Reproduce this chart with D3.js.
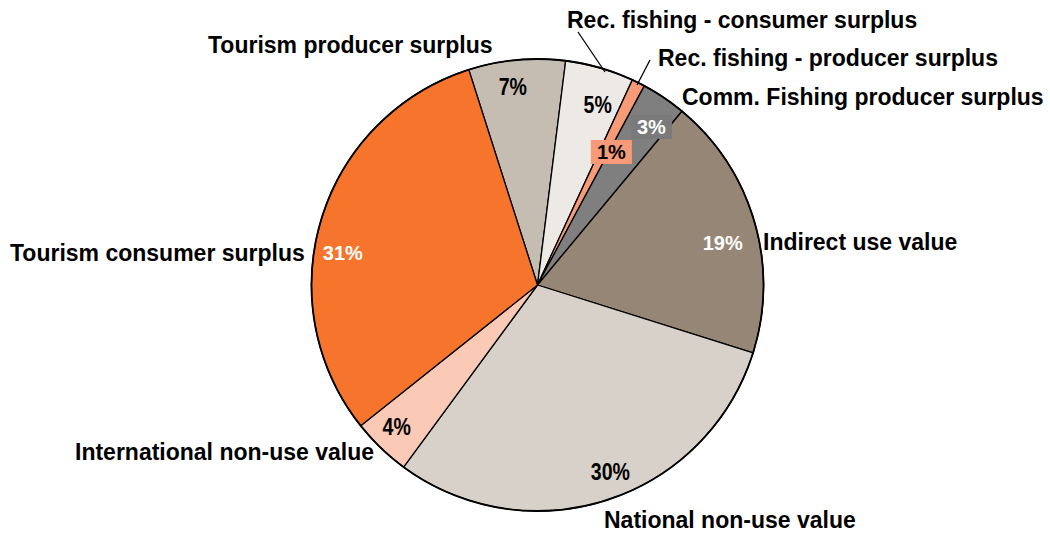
<!DOCTYPE html>
<html>
<head>
<meta charset="utf-8">
<script src="https://cdn.jsdelivr.net/npm/d3@7"></script>
<style>
  html, body { margin: 0; padding: 0; background: #fff; }
  svg { display: block; }
  .outer { font-family: "Liberation Sans", Arial, sans-serif; font-weight: bold; font-size: 23px; fill: #000; }
  .pct { font-family: "Liberation Sans", Arial, sans-serif; font-weight: bold; }
</style>
</head>
<body>
<svg id="chart" width="1050" height="533"></svg>
<script>
// ---- data ----
const categories = [
  "Tourism producer surplus",
  "Rec. fishing - consumer surplus",
  "Rec. fishing - producer surplus",
  "Comm. Fishing producer surplus",
  "Indirect use value",
  "National non-use value",
  "International non-use value",
  "Tourism consumer surplus"
];
const shares = [6.9, 4.9, 0.94, 3.2, 18.8, 30.2, 4.2, 30.75];
const colors = ["#C6BDB2", "#EDE9E5", "#F79A78", "#7F7F7F", "#968675", "#D8D1CA", "#FBCAB7", "#F7742C"];

// ---- layout (not data) ----
const cx = 537.5, cy = 285, R = 226;
const startAngle = -0.309;
// percentage label style per slice
const pctStyle = [
  {narrow: true,  fill: "#000", dx: -7,  dy: -5,  box: null},
  {narrow: true,  fill: "#000", dx: 7,   dy: 6,   box: null},
  {narrow: false, fill: "#000", dx: 6,   dy: 3,   box: "#F79A78", r: 152},
  {narrow: false, fill: "#fff", dx: 6,   dy: 2,   box: "#7A7A7A"},
  {narrow: false, fill: "#fff", dx: 0,   dy: 12,  box: null},
  {narrow: true,  fill: "#000", dx: 13,  dy: 4,   box: null},
  {narrow: true,  fill: "#000", dx: -7,  dy: 3,   box: null},
  {narrow: false, fill: "#fff", dx: -10, dy: 24,  box: null}
];
// outer labels: left x, baseline y
const outerPos = [
  [208, 53], [567, 28], [658, 66], [682, 105],
  [763, 250], [604, 528], [75, 460], [10, 261]
];
const leaders = [
  {i: 1, from: [578, 32], to: [605, 72]},
  {i: 2, from: [650, 60], to: [637, 85]}
];

const svg = d3.select("#chart");
const g = svg.append("g").attr("transform", `translate(${cx},${cy})`);

const pie = d3.pie().sort(null).value(d => d.v)
  .startAngle(startAngle).endAngle(startAngle + 2 * Math.PI);
const data = pie(shares.map((v, i) => ({v, i, name: categories[i]})));
const arc = d3.arc().innerRadius(0).outerRadius(R);

g.selectAll("path.slice").data(data).enter().append("path")
  .attr("class", "slice")
  .attr("d", arc)
  .attr("fill", d => colors[d.data.i])
  .attr("stroke", "#000")
  .attr("stroke-width", 1.3)
  .attr("stroke-linejoin", "round");

g.append("circle").attr("r", R).attr("fill", "none").attr("stroke", "#000").attr("stroke-width", 1.8);

// percentage labels
const pctG = g.append("g");
data.forEach(d => {
  const s = pctStyle[d.data.i];
  const lr = s.r || 193;
  const la = d3.arc().innerRadius(lr).outerRadius(lr);
  const [x0, y0] = la.centroid(d);
  const x = x0 + s.dx, y = y0 + s.dy;
  const label = Math.round(d.data.v) + "%";
  const t = pctG.append("text")
    .attr("class", "pct")
    .attr("transform", `translate(${x},${y}) scale(${s.narrow ? 0.85 : 1},1)`)
    .attr("text-anchor", "middle")
    .attr("dominant-baseline", "central")
    .attr("fill", s.fill)
    .style("font-size", s.narrow ? "23px" : "20px")
    .text(label);
  if (s.box) {
    const bb = t.node().getBBox();
    pctG.insert("rect", "text")
      .attr("x", x - bb.width / 2 - 6).attr("y", y - 12)
      .attr("width", bb.width + 12).attr("height", 24)
      .attr("fill", s.box);
  }
});

// leader lines
svg.selectAll("line.leader").data(leaders).enter().append("line")
  .attr("x1", d => d.from[0]).attr("y1", d => d.from[1])
  .attr("x2", d => d.to[0]).attr("y2", d => d.to[1])
  .attr("stroke", "#000").attr("stroke-width", 1.3);

// outer labels
svg.selectAll("text.outer").data(categories).enter().append("text")
  .attr("class", "outer")
  .attr("x", (d, i) => outerPos[i][0])
  .attr("y", (d, i) => outerPos[i][1])
  .text(d => d);
</script>
</body>
</html>
